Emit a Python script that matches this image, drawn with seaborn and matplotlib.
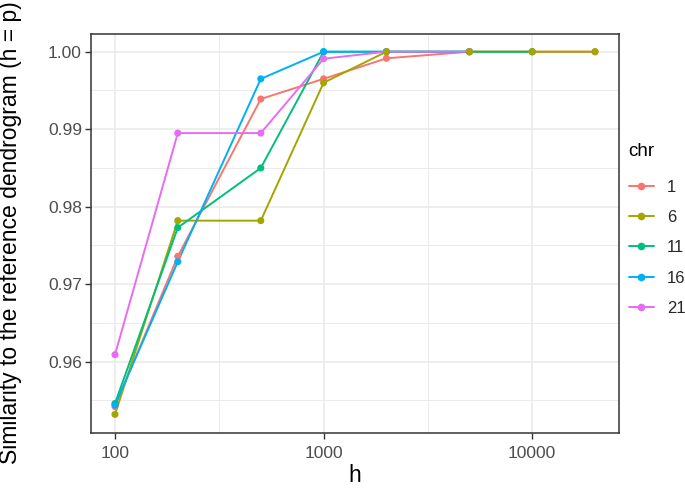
import numpy as np
import pandas as pd
import seaborn as sns
import matplotlib
matplotlib.use("Agg")
import matplotlib.pyplot as plt
from matplotlib.lines import Line2D
from matplotlib.ticker import FixedLocator, FixedFormatter, NullFormatter

# ---- data ----
h_values = [100, 200, 500, 1000, 2000, 5000, 10000, 20000]
chr_levels = ["1", "6", "11", "16", "21"]
sim_chr1 = [0.9542, 0.9736, 0.9939, 0.9965, 0.99915, 1.0, 1.0, 1.0]
sim_chr6 = [0.9532, 0.9782, 0.9782, 0.9960, 1.0, 1.0, 1.0, 1.0]
sim_chr11 = [0.9546, 0.9773, 0.9850, 1.0, 1.0, 1.0, 1.0]
sim_chr16 = [0.9544, 0.9729, 0.9965, 1.0, 1.0, 1.0]
sim_chr21 = [0.9609, 0.9895, 0.9895, 0.9991, 1.0, 1.0]
colors = ["#F8766D", "#A3A500", "#00BF7D", "#00B0F6", "#E76BF3"]
x_ticks = [100, 1000, 10000]
y_ticks = [0.96, 0.97, 0.98, 0.99, 1.00]

series = {"1": sim_chr1, "6": sim_chr6, "11": sim_chr11, "16": sim_chr16, "21": sim_chr21}
rows = []
for c in chr_levels:
    vals = series[c]
    for hv, v in zip(h_values[:len(vals)], vals):
        rows.append({"h": hv, "sim": v, "chr": c})
df = pd.DataFrame(rows)
palette = dict(zip(chr_levels, colors))

sns.set_theme(style="white")
plt.rcParams["font.family"] = ["Liberation Sans", "DejaVu Sans"]

fig = plt.figure(figsize=(6.85, 4.88), dpi=100)
ax = fig.add_axes([91 / 685, 1 - 432.5 / 488, (619 - 91) / 685, (432.5 - 33.6) / 488])

sns.lineplot(data=df, x="h", y="sim", hue="chr", hue_order=chr_levels, palette=palette,
             estimator=None, sort=False, legend=False, linewidth=1.4, ax=ax, zorder=3)
# points drawn in row order of a string-sorted table (chr "6" last, as in the reference)
df_pts = df.sort_values(["chr", "h"], kind="stable")
sns.scatterplot(data=df_pts, x="h", y="sim", hue="chr", palette=palette, legend=False,
                s=26, edgecolor="none", linewidth=0, ax=ax, zorder=4)

ax.set_xscale("log")
ax.set_xlim(10 ** 1.885, 10 ** 4.416)
ax.set_ylim(0.95086, 1.00234)
ax.xaxis.set_major_locator(FixedLocator(x_ticks))
ax.xaxis.set_major_formatter(FixedFormatter([str(t) for t in x_ticks]))
ax.xaxis.set_minor_locator(FixedLocator([10 ** 2.5, 10 ** 3.5]))
ax.xaxis.set_minor_formatter(NullFormatter())
ax.yaxis.set_major_locator(FixedLocator(y_ticks))
ax.yaxis.set_major_formatter(FixedFormatter([f"{t:.2f}" for t in y_ticks]))
ax.yaxis.set_minor_locator(FixedLocator([0.955, 0.965, 0.975, 0.985, 0.995]))

ax.grid(True, which="major", color="#EBEBEB", linewidth=1.2, zorder=0)
ax.grid(True, which="minor", color="#EBEBEB", linewidth=0.7, zorder=0)
ax.set_axisbelow(True)
ax.tick_params(which="major", direction="out", length=4, width=1.0, color="#333333",
               labelsize=12.5, labelcolor="#4D4D4D", bottom=True, left=True)
ax.tick_params(axis="x", which="major", pad=6)
ax.tick_params(axis="y", which="major", pad=2.5)
ax.tick_params(which="minor", length=0)
for s in ax.spines.values():
    s.set_color("#333333")
    s.set_linewidth(1.1)

ax.set_xlabel("h", fontsize=16.5, color="black")
ax.set_ylabel("Similarity to the reference dendrogram (h = p)", fontsize=16.5, color="black")
ax.xaxis.set_label_coords(0.5, (432.5 - 464) / 398.9)
ax.yaxis.set_label_coords((22 - 91) / 528, 0.5)

# legend title drawn as its own text, entries as a title-less legend
fig.text(628 / 685, 1 - 152 / 488, "chr", fontsize=13.5, color="black", ha="left", va="center")
handles = [Line2D([0], [0], color=c, lw=1.4, marker="o", markersize=5.5, markeredgewidth=0)
           for c in colors]
leg = fig.legend(handles, chr_levels, loc="upper left",
                 bbox_to_anchor=(622 / 685, 1 - 173 / 488), frameon=False,
                 fontsize=12, handlelength=1.5, handletextpad=0.78,
                 labelspacing=0.92, borderaxespad=0)

fig.savefig("out.png", dpi=100, facecolor="white")
